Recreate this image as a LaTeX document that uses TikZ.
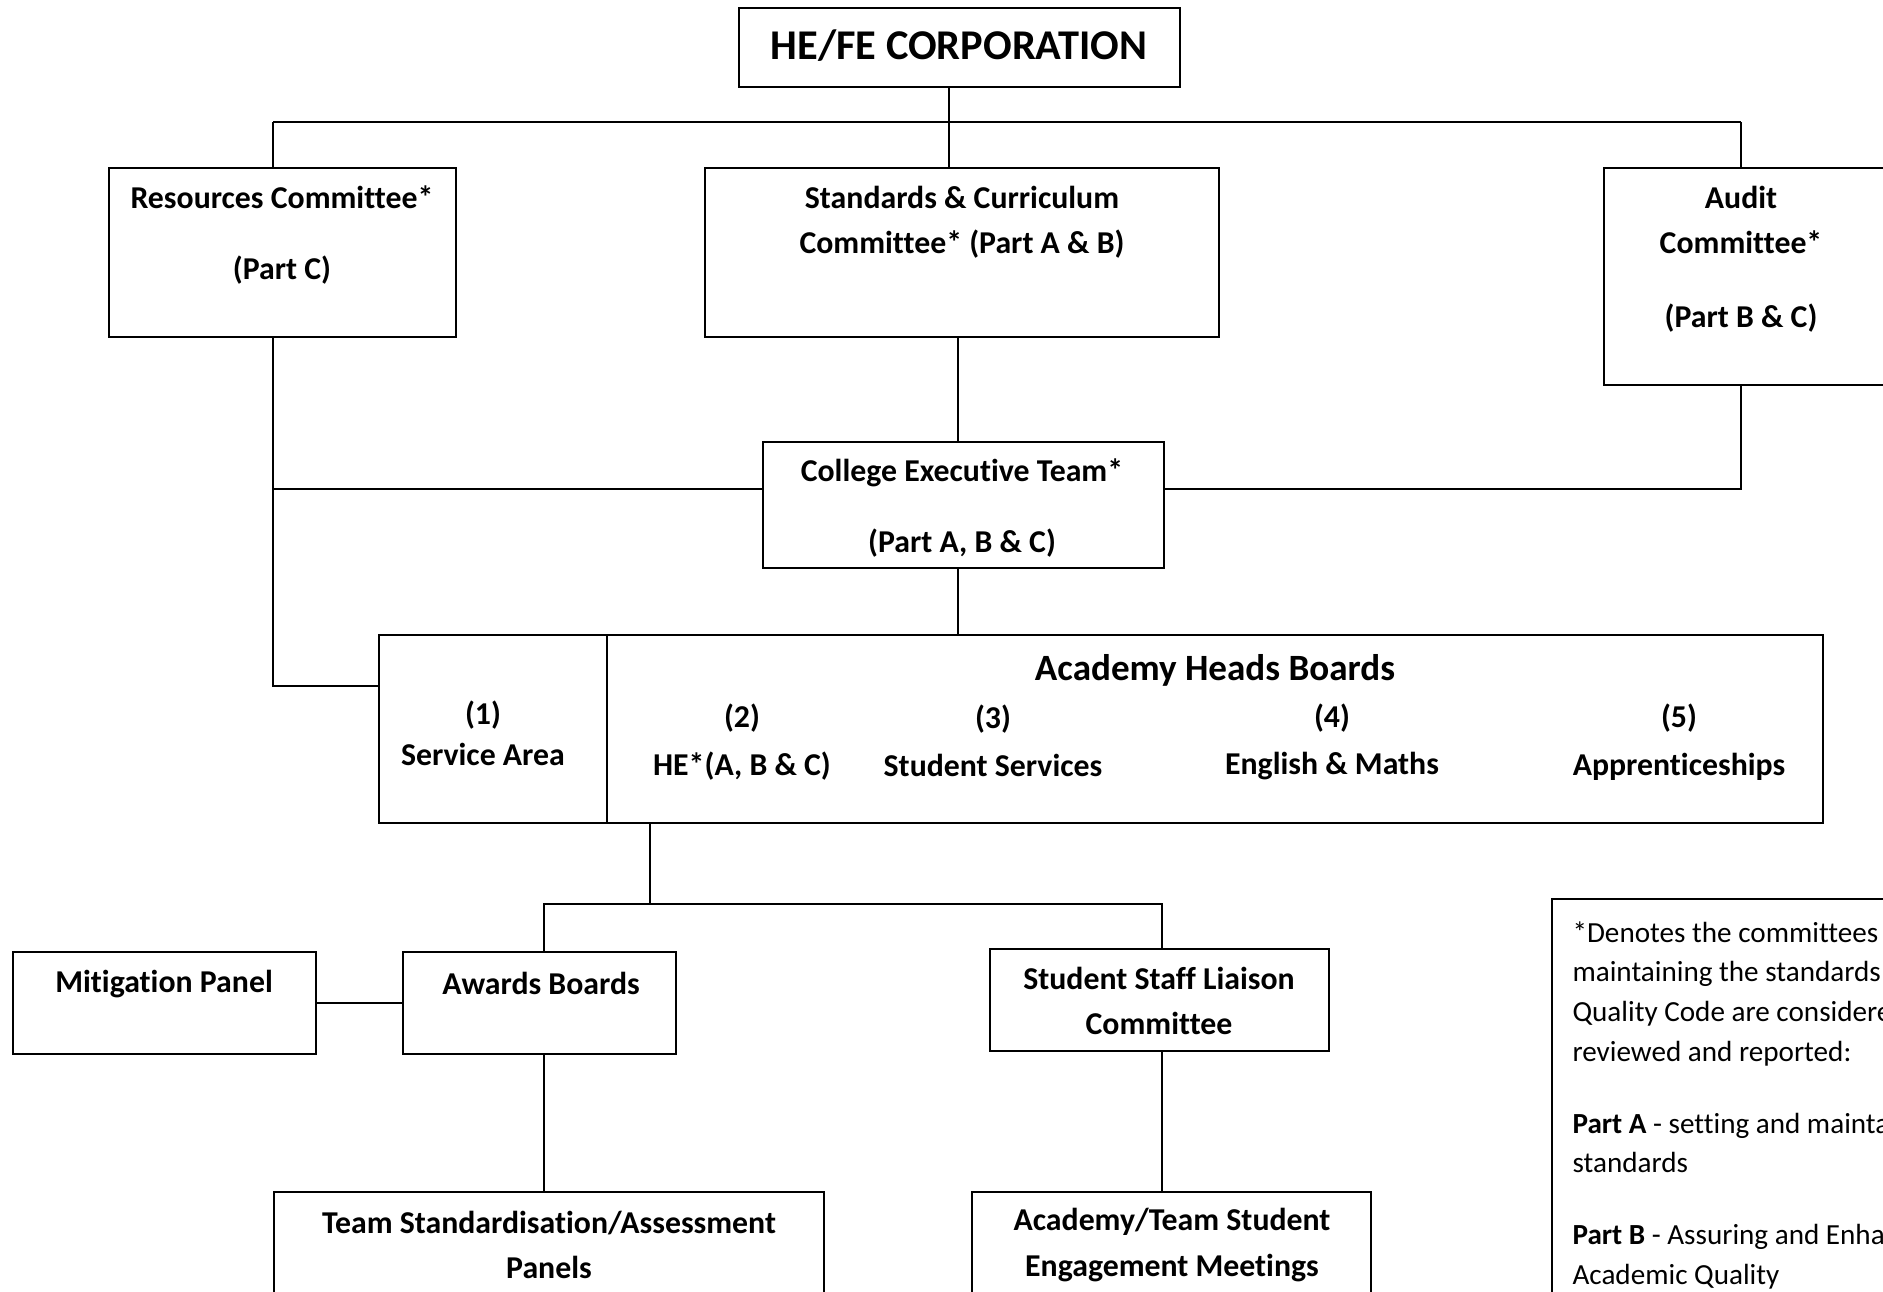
\documentclass[tikz,border=0pt]{standalone}
\usepackage{fontspec}
\setmainfont{Carlito}[Ligatures=NoCommon]
\usetikzlibrary{positioning, fit}

\begin{document}
\begin{tikzpicture}[
    x=0.3774pt, y=-0.3774pt,
    box/.style  = {draw, line width=0.6pt, inner sep=0pt},
    lbl/.style  = {font=\fontsize{12}{17}\selectfont\bfseries, align=center, inner sep=0pt},
    link/.style = {line width=0.6pt},
  ]
\useasboundingbox (0,0) rectangle (1883,1291);
\clip (0,0) rectangle (1883,1291);

% boxes
\node[box, fit={(739,8) (1180,87)}]      (hefe) {};
\node[box, fit={(109,168) (456,337)}]    (res)  {};
\node[box, fit={(705,168) (1219,337)}]   (stc)  {};
\node[box, fit={(1604,168) (1950,385)}]  (aud)  {};
\node[box, fit={(763,442) (1164,568)}]   (cet)  {};
\node[box, fit={(379,635) (607,823)}]    (sa)   {};
\node[box, fit={(607,635) (1823,823)}]   (ahb)  {};
\node[box, fit={(13,952) (316,1054)}]    (mit)  {};
\node[box, fit={(403,952) (676,1054)}]   (awd)  {};
\node[box, fit={(990,949) (1329,1051)}]  (sslc) {};
\node[box, fit={(274,1192) (824,1350)}]  (tsap) {};
\node[box, fit={(972,1192) (1371,1350)}] (atse) {};
\node[box, fit={(1552,899) (1950,1350)}] (note) {};

% texts
\node[lbl, font=\fontsize{16}{20}\selectfont\bfseries] (hefeT) at (959,46) {HE/FE CORPORATION};
\node[lbl] (resT)  at (282,235) {Resources Committee*\\[10pt](Part C)};
\node[lbl] (stcT)  at (962,222) {Standards \& Curriculum\\Committee* (Part A \& B)};
\node[lbl] (audT)  at (1741,259) {Audit\\Committee*\\[11pt](Part B \& C)};
\node[lbl] (cetT)  at (962,508) {College Executive Team*\\[10pt](Part A, B \& C)};
\node[lbl] (saT)   at (483,733) {(1)\\[-1.5pt]Service Area};
\node[lbl, font=\fontsize{14}{17}\selectfont\bfseries] (ahbT) at (1215,670) {Academy Heads Boards};
\node[lbl] (heT)   at (742,742) {(2)\\[1pt]HE*(A, B \& C)};
\node[lbl] (ssT)   at (993,741) {(3)\\[1pt]Student Services};
\node[lbl] (emT)   at (1332,742) {(4)\\[1pt]English \& Maths};
\node[lbl] (apT)   at (1679,742) {(5)\\[1pt]Apprenticeships};
\node[lbl] (mitT)  at (164,984) {Mitigation Panel};
\node[lbl] (awdT)  at (541,983) {Awards Boards};
\node[lbl] (sslcT) at (1159,1001) {Student Staff Liaison\\Committee};
\node[lbl] (tsapT) at (549,1245) {Team Standardisation/Assessment\\Panels};
\node[lbl] (atseT) at (1172,1245) {Academy/Team Student\\Engagement Meetings};
\node[anchor=north west, align=left, inner sep=0pt, font=\fontsize{11}{15}\selectfont] (noteT) at (1572,921)
    {*Denotes the committees where\\
     maintaining the standards of the\\
     Quality Code are considered,\\
     reviewed and reported:\\[12pt]
     \textbf{Part A} - setting and maintaining\\
     standards\\[12pt]
     \textbf{Part B} - Assuring and Enhancing\\
     Academic Quality};

% connectors
\coordinate (busL) at (273,122);
\coordinate (busM) at (949,122);
\coordinate (busR) at (1741,122);
\coordinate (midL) at (273,489);
\coordinate (midR) at (1741,489);
\coordinate (midC) at (958,489);
\coordinate (saL)  at (273,686);
\coordinate (lowL) at (544,904);
\coordinate (lowJ) at (650,904);
\coordinate (lowR) at (1162,904);
\draw[link] (busL) -- (busR);
\draw[link] (hefe.south -| busM) -- (stc.north -| busM);
\draw[link] (busL) -- (res.north -| busL);
\draw[link] (busR) -- (aud.north -| busR);
\draw[link] (res.south -| saL) |- (sa.west |- saL);
\draw[link] (midL) -- (cet.west |- midL);
\draw[link] (cet.east |- midR) -- (midR) -- (aud.south -| midR);
\draw[link] (stc.south -| midC) -- (cet.north -| midC);
\draw[link] (cet.south -| midC) -- (ahb.north -| midC);
\draw[link] (ahb.south -| lowJ) -- (lowJ);
\draw[link] (awd.north -| lowL) -- (lowL) -- (lowR) -- (sslc.north -| lowR);
\draw[link] (mit) -- (awd);
\draw[link] (awd.south -| lowL) -- (tsap.north -| lowL);
\draw[link] (sslc.south -| lowR) -- (atse.north -| lowR);
\end{tikzpicture}
\end{document}
